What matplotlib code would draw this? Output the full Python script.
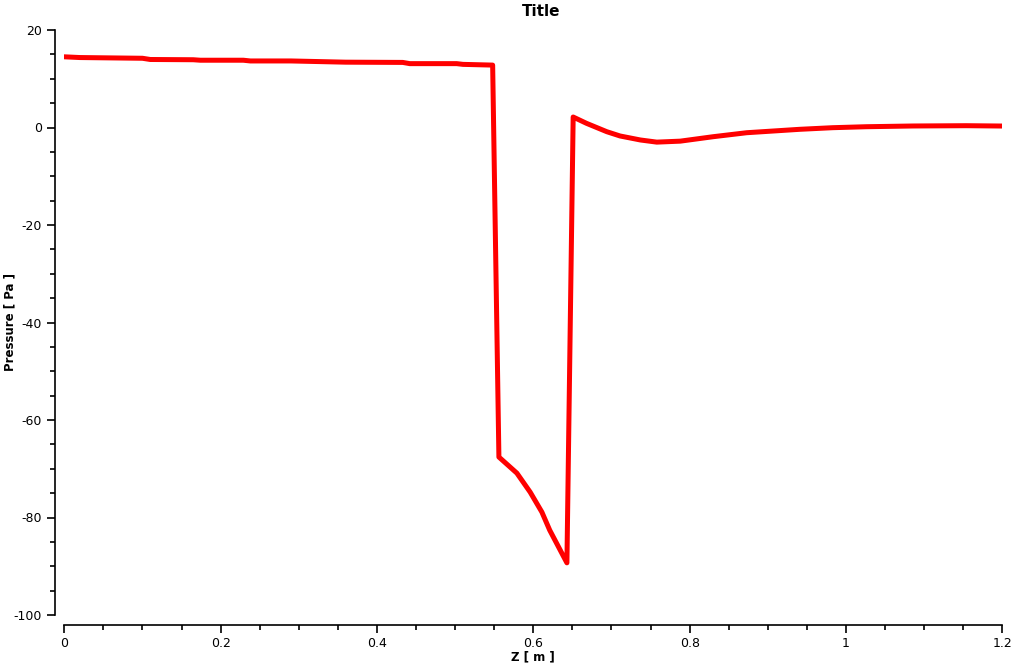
import matplotlib
matplotlib.use("Agg")
import matplotlib.pyplot as plt
from matplotlib.ticker import MultipleLocator

z = [0.0, 0.02, 0.10, 0.11, 0.165, 0.174, 0.229, 0.238, 0.29, 0.36, 0.433, 0.442,
     0.502, 0.51, 0.548, 0.556, 0.579, 0.596, 0.611, 0.621, 0.643, 0.651, 0.668,
     0.694, 0.711, 0.737, 0.758, 0.788, 0.830, 0.873, 0.907, 0.941, 0.983, 1.026,
     1.086, 1.154, 1.2]
pressure = [14.5, 14.35, 14.2, 13.95, 13.9, 13.8, 13.8, 13.65, 13.65, 13.4, 13.35, 13.1,
            13.1, 12.95, 12.8, -67.6, -70.9, -74.8, -78.9, -82.6, -89.3, 2.15, 0.86,
            -0.86, -1.74, -2.56, -3.0, -2.8, -1.89, -1.07, -0.72, -0.37, -0.04, 0.16,
            0.31, 0.37, 0.3]

title = "Title"
xlabel = "Z [ m ]"
ylabel = "Pressure [ Pa ]"

plt.rcParams['font.family'] = ['DejaVu Sans']
plt.rcParams['axes.unicode_minus'] = False

fig = plt.figure(figsize=(10.22, 6.64), dpi=100)
W, H = 1022, 664
ax = fig.add_axes([64.3 / W, 1 - 615 / H, (1002.3 - 64.3) / W, (615 - 30) / H])

ax.plot(z, pressure, color='#ff0000', linewidth=3.6, solid_joinstyle='round',
        solid_capstyle='round')

ax.set_xlim(0, 1.2)
ax.set_ylim(-100, 20)
ax.xaxis.set_minor_locator(MultipleLocator(0.05))
ax.yaxis.set_minor_locator(MultipleLocator(5))
ax.set_xticks([0, 0.2, 0.4, 0.6, 0.8, 1.0, 1.2])
ax.set_xticklabels(['0', '0.2', '0.4', '0.6', '0.8', '1', '1.2'])
ax.set_yticks([-100, -80, -60, -40, -20, 0, 20])
ax.set_yticklabels(['-100', '-80', '-60', '-40', '-20', '0', '20'])

for s in ['top', 'right']:
    ax.spines[s].set_visible(False)
ax.spines['left'].set_position(('outward', 7))
ax.spines['bottom'].set_position(('outward', 7))
for s in ['left', 'bottom']:
    ax.spines[s].set_linewidth(1.2)

ax.tick_params(which='major', length=6, width=1.2, labelsize=9, pad=3, direction='out')
ax.tick_params(which='minor', length=3.5, width=1.2, direction='out')

fig.text(541 / W, 1 - 11 / H, title, ha='center', va='center', fontsize=11, fontweight='bold')
fig.text(533 / W, 1 - 657 / H, xlabel, ha='center', va='center', fontsize=8.5, fontweight='bold')
fig.text(10 / W, 1 - 322 / H, ylabel, ha='center', va='center', fontsize=8.5,
         fontweight='bold', rotation=90)

fig.savefig('out.png', dpi=100)
